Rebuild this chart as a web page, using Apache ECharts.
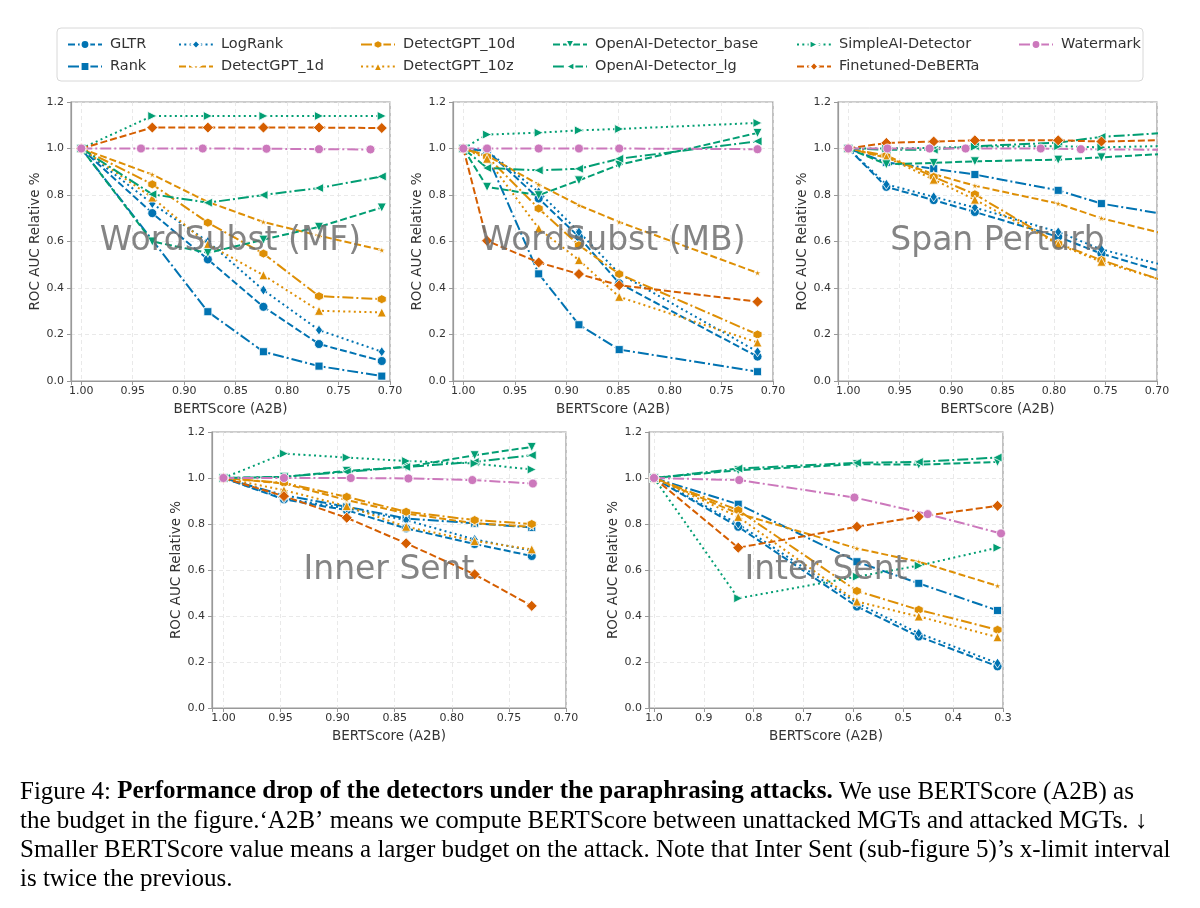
<!DOCTYPE html>
<html>
<head>
  <meta charset="UTF-8">
  <title>Paraphrasing attacks</title>
  <style>
    * { margin: 0; padding: 0; }
    html, body { width: 100%; height: 100%; background: #fff; }
    #chart { width: 1200px; height: 908px; }
  </style>
  <script src="https://cdn.jsdelivr.net/npm/echarts@6/dist/echarts.min.js"></script>
</head>
<body>
  <div id="chart"></div>
  <script>
    // detectors, in plotting order
    var detectors = ['GLTR', 'Rank', 'LogRank', 'DetectGPT_1d', 'DetectGPT_10d', 'DetectGPT_10z',
      'OpenAI-Detector_base', 'OpenAI-Detector_lg', 'SimpleAI-Detector', 'Finetuned-DeBERTa', 'Watermark'];

    // legend columns (matplotlib fills column by column)
    var legendCols = [
      ['GLTR', 'Rank'], ['LogRank', 'DetectGPT_1d'], ['DetectGPT_10d', 'DetectGPT_10z'],
      ['OpenAI-Detector_base', 'OpenAI-Detector_lg'], ['SimpleAI-Detector', 'Finetuned-DeBERTa'], ['Watermark']
    ];

    var panelNames = ['WordSubst (MF)', 'WordSubst (MB)', 'Span Perturb', 'Inner Sent', 'Inter Sent'];

    // ---- WordSubst (MF)
    var xMF = [1.00, 0.931, 0.877, 0.823, 0.769, 0.708];
    var xMFRank = [1.00, 0.877, 0.823, 0.769, 0.708];
    var xMFWm = [1.00, 0.942, 0.882, 0.820, 0.769, 0.719];
    var yMF = {
      'GLTR': [1.00, 0.722, 0.523, 0.319, 0.159, 0.086],
      'Rank': [1.00, 0.298, 0.126, 0.064, 0.021],
      'LogRank': [1.00, 0.763, 0.600, 0.391, 0.219, 0.126],
      'DetectGPT_1d': [1.00, 0.888, 0.770, 0.684, 0.625, 0.563],
      'DetectGPT_10d': [1.00, 0.846, 0.681, 0.548, 0.365, 0.352],
      'DetectGPT_10z': [1.00, 0.789, 0.588, 0.455, 0.302, 0.295],
      'OpenAI-Detector_base': [1.00, 0.600, 0.551, 0.608, 0.663, 0.746],
      'OpenAI-Detector_lg': [1.00, 0.803, 0.767, 0.800, 0.830, 0.880],
      'SimpleAI-Detector': [1.00, 1.140, 1.140, 1.140, 1.140, 1.140],
      'Finetuned-DeBERTa': [1.00, 1.090, 1.090, 1.090, 1.090, 1.088],
      'Watermark': [1.00, 1.000, 1.000, 0.999, 0.997, 0.996]
    };

    // ---- WordSubst (MB)
    var xMB = [1.00, 0.977, 0.927, 0.888, 0.849, 0.715];
    var yMB = {
      'GLTR': [1.00, 0.990, 0.785, 0.620, 0.420, 0.105],
      'Rank': [1.00, 0.970, 0.461, 0.242, 0.135, 0.040],
      'LogRank': [1.00, 0.990, 0.813, 0.641, 0.462, 0.126],
      'DetectGPT_1d': [1.00, 0.970, 0.845, 0.756, 0.684, 0.465],
      'DetectGPT_10d': [1.00, 0.965, 0.742, 0.584, 0.460, 0.200],
      'DetectGPT_10z': [1.00, 0.956, 0.656, 0.520, 0.362, 0.166],
      'OpenAI-Detector_base': [1.00, 0.835, 0.799, 0.863, 0.930, 1.067],
      'OpenAI-Detector_lg': [1.00, 0.916, 0.906, 0.913, 0.956, 1.031],
      'SimpleAI-Detector': [1.00, 1.060, 1.068, 1.078, 1.084, 1.110],
      'Finetuned-DeBERTa': [1.00, 0.603, 0.510, 0.460, 0.412, 0.341],
      'Watermark': [1.00, 1.000, 1.000, 1.000, 1.000, 0.997]
    };

    // ---- Span Perturb (last point lies past the x-limit)
    var xSP = [1.00, 0.963, 0.917, 0.877, 0.796, 0.754, 0.660];
    var xSPWm = [1.00, 0.962, 0.921, 0.886, 0.813, 0.774, 0.660];
    var ySP = {
      'GLTR': [1.00, 0.835, 0.778, 0.727, 0.620, 0.548, 0.424],
      'Rank': [1.00, 0.940, 0.913, 0.888, 0.820, 0.763, 0.693],
      'LogRank': [1.00, 0.846, 0.792, 0.746, 0.641, 0.566, 0.460],
      'DetectGPT_1d': [1.00, 0.960, 0.890, 0.840, 0.763, 0.700, 0.597],
      'DetectGPT_10d': [1.00, 0.970, 0.878, 0.803, 0.591, 0.520, 0.382],
      'DetectGPT_10z': [1.00, 0.963, 0.866, 0.780, 0.588, 0.513, 0.386],
      'OpenAI-Detector_base': [1.00, 0.932, 0.938, 0.945, 0.952, 0.962, 0.985],
      'OpenAI-Detector_lg': [1.00, 0.995, 0.995, 1.010, 1.025, 1.050, 1.076],
      'SimpleAI-Detector': [1.00, 1.000, 1.003, 1.008, 1.010, 1.005, 1.014],
      'Finetuned-DeBERTa': [1.00, 1.024, 1.030, 1.035, 1.035, 1.030, 1.039],
      'Watermark': [1.00, 1.000, 1.000, 1.000, 1.000, 0.997, 0.993]
    };

    // ---- Inner Sent
    var xIN = [1.00, 0.947, 0.892, 0.840, 0.780, 0.730];
    var xINWm = [1.00, 0.947, 0.8885, 0.838, 0.782, 0.729];
    var yIN = {
      'GLTR': [1.00, 0.907, 0.860, 0.781, 0.713, 0.661],
      'Rank': [1.00, 0.925, 0.875, 0.824, 0.803, 0.785],
      'LogRank': [1.00, 0.911, 0.868, 0.817, 0.733, 0.684],
      'DetectGPT_1d': [1.00, 0.976, 0.904, 0.846, 0.803, 0.788],
      'DetectGPT_10d': [1.00, 0.979, 0.918, 0.853, 0.817, 0.800],
      'DetectGPT_10z': [1.00, 0.947, 0.878, 0.788, 0.726, 0.690],
      'OpenAI-Detector_base': [1.00, 1.005, 1.031, 1.048, 1.099, 1.135],
      'OpenAI-Detector_lg': [1.00, 1.005, 1.027, 1.048, 1.070, 1.099],
      'SimpleAI-Detector': [1.00, 1.106, 1.089, 1.074, 1.063, 1.037],
      'Finetuned-DeBERTa': [1.00, 0.921, 0.827, 0.716, 0.581, 0.444],
      'Watermark': [1.00, 1.000, 1.000, 0.998, 0.991, 0.976]
    };

    // ---- Inter Sent
    var xIS = [1.00, 0.831, 0.593, 0.469, 0.311];
    var xISWm = [1.00, 0.829, 0.598, 0.451, 0.304];
    var yIS = {
      'GLTR': [1.00, 0.788, 0.441, 0.311, 0.181],
      'Rank': [1.00, 0.886, 0.636, 0.542, 0.424],
      'LogRank': [1.00, 0.800, 0.456, 0.325, 0.195],
      'DetectGPT_1d': [1.00, 0.846, 0.694, 0.636, 0.531],
      'DetectGPT_10d': [1.00, 0.860, 0.509, 0.427, 0.340],
      'DetectGPT_10z': [1.00, 0.831, 0.463, 0.398, 0.308],
      'OpenAI-Detector_base': [1.00, 1.034, 1.060, 1.058, 1.070],
      'OpenAI-Detector_lg': [1.00, 1.041, 1.066, 1.070, 1.089],
      'SimpleAI-Detector': [1.00, 0.477, 0.571, 0.619, 0.697],
      'Finetuned-DeBERTa': [1.00, 0.697, 0.788, 0.832, 0.879],
      'Watermark': [1.00, 0.991, 0.915, 0.843, 0.759]
    };

    var captionLines = [
      '{n|Figure 4: }{b|Performance drop of the detectors under the paraphrasing attacks.}{n| We use BERTScore (A2B) as}',
      '{n|the budget in the figure.‘A2B’ means we compute BERTScore between unattacked MGTs and attacked MGTs. ↓}',
      '{n|Smaller BERTScore value means a larger budget on the attack. Note that Inter Sent (sub-figure 5)’s x-limit interval}',
      '{n|is twice the previous.}'
    ];

    // ---------- styles ----------
    var BLUE = '#0173b2', ORANGE = '#de8f05', GREEN = '#029e73', RED = '#d55e00', PINK = '#cc78bc';
    var DASHED = [7, 3], DOTTED = [2, 3.3], DASHDOT = [11, 3, 2, 3];
    var STAR = 'path://M0,-1 L0.2245,-0.309 L0.951,-0.309 L0.363,0.118 L0.588,0.809 L0,0.382 L-0.588,0.809 L-0.363,0.118 L-0.951,-0.309 L-0.2245,-0.309 Z';
    var HEX = 'path://M0,-1 L0.866,-0.5 L0.866,0.5 L0,1 L-0.866,0.5 L-0.866,-0.5 Z';
    var TDOWN = 'path://M-1,-0.9 L1,-0.9 L0,0.9 Z';
    var TUP = 'path://M-1,0.9 L1,0.9 L0,-0.9 Z';
    var TLEFT = 'path://M0.9,-1 L0.9,1 L-0.9,0 Z';
    var TRIGHT = 'path://M-0.9,-1 L-0.9,1 L0.9,0 Z';
    var THIN = 'path://M0,-1 L0.55,0 L0,1 L-0.55,0 Z';

    var styles = {
      'GLTR': { color: BLUE, dash: DASHED, symbol: 'circle', size: 9 },
      'Rank': { color: BLUE, dash: DASHDOT, symbol: 'rect', size: 8 },
      'LogRank': { color: BLUE, dash: DOTTED, symbol: THIN, size: [7, 10] },
      'DetectGPT_1d': { color: ORANGE, dash: DASHED, symbol: STAR, size: 7 },
      'DetectGPT_10d': { color: ORANGE, dash: DASHDOT, symbol: HEX, size: [9, 9] },
      'DetectGPT_10z': { color: ORANGE, dash: DOTTED, symbol: TUP, size: 9 },
      'OpenAI-Detector_base': { color: GREEN, dash: DASHED, symbol: TDOWN, size: 9 },
      'OpenAI-Detector_lg': { color: GREEN, dash: DASHDOT, symbol: TLEFT, size: 9 },
      'SimpleAI-Detector': { color: GREEN, dash: DOTTED, symbol: TRIGHT, size: 9 },
      'Finetuned-DeBERTa': { color: RED, dash: DASHED, symbol: 'diamond', size: 11 },
      'Watermark': { color: PINK, dash: DASHDOT, symbol: 'circle', size: 9 }
    };

    var grids = [
      { left: 71, top: 102, width: 319, height: 279 },
      { left: 453, top: 102, width: 320, height: 279 },
      { left: 838, top: 102, width: 319, height: 279 },
      { left: 212, top: 432, width: 354, height: 276 },
      { left: 649, top: 432, width: 354, height: 276 }
    ];

    var panelData = [
      { x: xMF, xOver: { 'Rank': xMFRank, 'Watermark': xMFWm }, y: yMF },
      { x: xMB, xOver: {}, y: yMB },
      { x: xSP, xOver: { 'Watermark': xSPWm }, y: ySP },
      { x: xIN, xOver: { 'Watermark': xINWm }, y: yIN },
      { x: xIS, xOver: { 'Watermark': xISWm }, y: yIS }
    ];

    var FONT = 'DejaVu Sans';
    var series = [];
    panelData.forEach(function (p, pi) {
      detectors.forEach(function (name) {
        var xs = p.xOver[name] || p.x;
        var ys = p.y[name];
        var st = styles[name];
        series.push({
          type: 'line',
          name: name,
          xAxisIndex: pi,
          yAxisIndex: pi,
          data: ys.map(function (v, i) { return [xs[i], v]; }),
          symbol: st.symbol,
          symbolSize: st.size,
          showAllSymbol: true,
          clip: true,
          animation: false,
          lineStyle: { color: st.color, width: 2, type: st.dash },
          itemStyle: { color: st.color, borderColor: '#fff', borderWidth: 0.8 },
          emphasis: { disabled: true }
        });
      });
    });

    function tickFmt(step, digits) {
      return function (v) {
        var k = v / step;
        return Math.abs(k - Math.round(k)) < 1e-6 ? v.toFixed(digits) : '';
      };
    }

    var xAxes = grids.map(function (g, i) {
      var wide = i === 4;
      return {
        gridIndex: i,
        type: 'value',
        inverse: true,
        min: wide ? 0.3 : 0.7,
        max: 1.01,
        interval: wide ? 0.1 : 0.05,
        name: 'BERTScore (A2B)',
        nameLocation: 'middle',
        nameGap: 21,
        nameTextStyle: { fontFamily: FONT, fontSize: 13.5, color: '#333' },
        axisLine: { show: true, lineStyle: { color: '#999', width: 1.2 } },
        axisTick: { show: true, length: 4, lineStyle: { color: '#999' } },
        axisLabel: { margin: 5, fontFamily: FONT, fontSize: 11, color: '#333',
          formatter: tickFmt(wide ? 0.1 : 0.05, wide ? 1 : 2) },
        splitLine: { show: true, lineStyle: { color: '#e3e3e3', width: 0.8, type: [4, 3] } }
      };
    });

    var yAxes = grids.map(function (g, i) {
      return {
        gridIndex: i,
        type: 'value',
        min: 0,
        max: 1.2,
        interval: 0.2,
        name: 'ROC AUC Relative %',
        nameLocation: 'middle',
        nameGap: 29,
        nameTextStyle: { fontFamily: FONT, fontSize: 13.5, color: '#333' },
        axisLine: { show: true, lineStyle: { color: '#999', width: 1.2 } },
        axisTick: { show: true, length: 4, lineStyle: { color: '#999' } },
        axisLabel: { margin: 7, fontFamily: FONT, fontSize: 11, color: '#333',
          formatter: function (v) { return v.toFixed(1); } },
        splitLine: { show: true, lineStyle: { color: '#e3e3e3', width: 0.8, type: [4, 3] } }
      };
    });

    var legendLefts = [62, 173, 355, 547, 791, 1013];
    var legends = legendCols.map(function (col, i) {
      return {
        data: col,
        orient: 'vertical',
        left: legendLefts[i],
        top: 31,
        itemGap: 5,
        itemWidth: 34,
        itemHeight: 11,
        selectedMode: false,
        z: 10,
        textStyle: { fontFamily: FONT, fontSize: 14.5, color: '#333', lineHeight: 17, padding: [0, 0, 0, 3] }
      };
    });

    var graphics = [{
      type: 'rect',
      z: 0,
      shape: { x: 57, y: 28, width: 1086, height: 53, r: 4 },
      style: { fill: '#fff', stroke: '#d8d8d8', lineWidth: 1 }
    }];
    grids.forEach(function (g, i) {
      graphics.push({
        type: 'text',
        z: 100,
        style: {
          text: panelNames[i],
          x: g.left + g.width / 2,
          y: g.top + g.height / 2,
          align: 'center',
          verticalAlign: 'middle',
          fill: 'rgba(110,110,110,0.85)',
          font: '33px "DejaVu Sans"'
        }
      });
    });
    captionLines.forEach(function (line, i) {
      graphics.push({
        type: 'text',
        z: 100,
        style: {
          text: line,
          x: 20,
          y: 792 + i * 29.3,
          verticalAlign: 'middle',
          rich: {
            n: { fontFamily: 'Liberation Serif', fontSize: 25, color: '#000' },
            b: { fontFamily: 'Liberation Serif', fontSize: 25, fontWeight: 'bold', color: '#000' }
          }
        }
      });
    });

    var chart = echarts.init(document.getElementById('chart'));
    chart.setOption({
      backgroundColor: '#fff',
      animation: false,
      grid: grids.map(function (g) {
        return Object.assign({ show: true, borderColor: '#999', borderWidth: 1.2, backgroundColor: 'transparent' }, g);
      }),
      legend: legends,
      xAxis: xAxes,
      yAxis: yAxes,
      graphic: graphics,
      series: series
    });
  </script>
</body>
</html>
